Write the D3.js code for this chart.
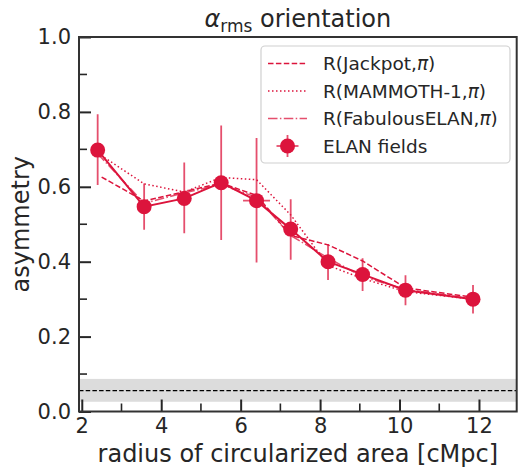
<!DOCTYPE html>
<html>
<head>
<meta charset="utf-8">
<script src="https://cdn.jsdelivr.net/npm/d3@7"></script>
<style>
    body { margin: 0; background: #ffffff; }
    svg text { font-family: 'DejaVu Sans', sans-serif; fill: #262626; }
</style>
</head>
<body>
<div id="chart"></div>
<script>
// ELAN field measurements
var radius = [ 2.40, 3.57, 4.58, 5.51, 6.40, 7.26, 8.20, 9.07, 10.15, 11.85 ];
var asym = [ 0.698, 0.547, 0.569, 0.611, 0.563, 0.487, 0.400, 0.366, 0.324, 0.300 ];
var asymLo = [ 0.605, 0.485, 0.476, 0.458, 0.398, 0.405, 0.351, 0.322, 0.284, 0.262 ];
var asymHi = [ 0.794, 0.609, 0.665, 0.764, 0.730, 0.567, 0.447, 0.409, 0.364, 0.338 ];
var radiusErr = [ 0.12, 0.12, 0.12, 0.12, 0.34, 0.12, 0.12, 0.12, 0.12, 0.12 ];

// simulation curves
var jackpotX = [ 2.50, 3.57, 4.58, 5.51, 6.40, 7.26, 8.20, 9.07, 10.15, 11.85 ];
var jackpotY = [ 0.626, 0.562, 0.587, 0.610, 0.577, 0.470, 0.445, 0.402, 0.330, 0.305 ];
var mammothX = [ 2.40, 3.57, 4.58, 5.51, 6.40, 7.26, 8.20, 9.07, 10.15, 11.85 ];
var mammothY = [ 0.690, 0.608, 0.586, 0.625, 0.619, 0.525, 0.390, 0.355, 0.320, 0.300 ];
var fabulousX = [ 2.40, 3.57, 4.58, 5.51, 6.40, 7.26, 8.20, 9.07, 10.15, 11.85 ];
var fabulousY = [ 0.688, 0.556, 0.584, 0.606, 0.572, 0.470, 0.410, 0.360, 0.326, 0.301 ];

// random-orientation baseline
var baseline = 0.056;
var baselineLo = 0.026;
var baselineHi = 0.087;

var xTicks = [ 2, 4, 6, 8, 10, 12 ];
var xMinor = [ 3, 5, 7, 9, 11 ];
var yTicks = [ 0.0, 0.2, 0.4, 0.6, 0.8, 1.0 ];
var yMinor = [ 0.1, 0.3, 0.5, 0.7, 0.9 ];

var legendLabels = [ 'R(Jackpot,', 'R(MAMMOTH-1,', 'R(FabulousELAN,', 'ELAN fields' ];

var W = 519, H = 468;
var margin = { top: 37, right: 2.3, bottom: 56.5, left: 79 };
var red = '#dc143c';
var ink = '#262626';

var svg = d3.select( '#chart' )
    .append( 'svg' )
    .attr( 'width', W )
    .attr( 'height', H );

var x = d3.scaleLinear()
    .domain( [ 1.93, 12.95 ] )
    .range( [ margin.left, W - margin.right ] );

var y = d3.scaleLinear()
    .domain( [ 0, 1 ] )
    .range( [ H - margin.bottom, margin.top ] );

svg.append( 'clipPath' )
    .attr( 'id', 'plotClip' )
    .append( 'rect' )
    .attr( 'x', margin.left )
    .attr( 'y', margin.top )
    .attr( 'width', W - margin.right - margin.left )
    .attr( 'height', H - margin.bottom - margin.top );

var plot = svg.append( 'g' ).attr( 'clip-path', 'url(#plotClip)' );

// grey band + dashed baseline
plot.append( 'rect' )
    .attr( 'x', margin.left )
    .attr( 'width', W - margin.right - margin.left )
    .attr( 'y', y( baselineHi ) )
    .attr( 'height', y( baselineLo ) - y( baselineHi ) )
    .attr( 'fill', '#dcdcdc' );

plot.append( 'line' )
    .attr( 'x1', margin.left )
    .attr( 'x2', W - margin.right )
    .attr( 'y1', y( baseline ) )
    .attr( 'y2', y( baseline ) )
    .attr( 'stroke', '#000' )
    .attr( 'stroke-width', 1.3 )
    .attr( 'stroke-dasharray', '4.5,2.2' );

var line = d3.line()
    .x( d => x( d[0] ) )
    .y( d => y( d[1] ) );

var models = [
    { xs: jackpotX, ys: jackpotY, dash: '5.5,2.4', opacity: 1 },
    { xs: mammothX, ys: mammothY, dash: '1.5,2.5', opacity: 1 },
    { xs: fabulousX, ys: fabulousY, dash: '9.5,2.4,1.5,2.4', opacity: 0.75 }
];

models.forEach( function ( m ) {
    plot.append( 'path' )
        .datum( d3.zip( m.xs, m.ys ) )
        .attr( 'd', line )
        .attr( 'fill', 'none' )
        .attr( 'stroke', red )
        .attr( 'stroke-width', 1.5 )
        .attr( 'stroke-opacity', m.opacity )
        .attr( 'stroke-dasharray', m.dash );
} );

var pts = radius.map( ( r, i ) => ( { x: r, y: asym[i], lo: asymLo[i], hi: asymHi[i], xe: radiusErr[i] } ) );

// error bars
plot.append( 'g' )
    .selectAll( 'line' )
    .data( pts )
    .join( 'line' )
    .attr( 'x1', d => x( d.x ) )
    .attr( 'x2', d => x( d.x ) )
    .attr( 'y1', d => y( d.lo ) )
    .attr( 'y2', d => y( d.hi ) )
    .attr( 'stroke', red )
    .attr( 'stroke-opacity', 0.75 )
    .attr( 'stroke-width', 1.8 );

plot.append( 'g' )
    .selectAll( 'line' )
    .data( pts )
    .join( 'line' )
    .attr( 'x1', d => x( d.x - d.xe ) )
    .attr( 'x2', d => x( d.x + d.xe ) )
    .attr( 'y1', d => y( d.y ) )
    .attr( 'y2', d => y( d.y ) )
    .attr( 'stroke', red )
    .attr( 'stroke-opacity', 0.75 )
    .attr( 'stroke-width', 1.8 );

plot.append( 'path' )
    .datum( d3.zip( radius, asym ) )
    .attr( 'd', line )
    .attr( 'fill', 'none' )
    .attr( 'stroke', red )
    .attr( 'stroke-width', 2 );

plot.append( 'g' )
    .selectAll( 'circle' )
    .data( pts )
    .join( 'circle' )
    .attr( 'cx', d => x( d.x ) )
    .attr( 'cy', d => y( d.y ) )
    .attr( 'r', 7.5 )
    .attr( 'fill', red );

// axes, ticks pointing inward
var xAxis = svg.append( 'g' )
    .attr( 'transform', 'translate(0,' + ( H - margin.bottom ) + ')' )
    .call( d3.axisBottom( x ).tickValues( xTicks ).tickSizeInner( -12 ).tickSizeOuter( 0 ).tickPadding( 3 ).tickFormat( d3.format( 'd' ) ) );
xAxis.selectAll( 'text' ).attr( 'dy', '0.9em' );

var yAxis = svg.append( 'g' )
    .attr( 'transform', 'translate(' + margin.left + ',0)' )
    .call( d3.axisLeft( y ).tickValues( yTicks ).tickSizeInner( -12 ).tickSizeOuter( 0 ).tickPadding( 8 ).tickFormat( d3.format( '.1f' ) ) );

[ xAxis, yAxis ].forEach( function ( a ) {
    a.select( '.domain' ).remove();
    a.selectAll( '.tick line' ).attr( 'stroke', ink ).attr( 'stroke-width', 2 );
    a.selectAll( 'text' )
        .attr( 'font-family', "'DejaVu Sans', sans-serif" )
        .attr( 'font-size', 21 )
        .attr( 'fill', ink );
} );

svg.append( 'g' )
    .selectAll( 'line' )
    .data( xMinor )
    .join( 'line' )
    .attr( 'x1', d => x( d ) )
    .attr( 'x2', d => x( d ) )
    .attr( 'y1', H - margin.bottom )
    .attr( 'y2', H - margin.bottom - 8 )
    .attr( 'stroke', ink )
    .attr( 'stroke-width', 1.6 );

svg.append( 'g' )
    .selectAll( 'line' )
    .data( yMinor )
    .join( 'line' )
    .attr( 'x1', margin.left )
    .attr( 'x2', margin.left + 8 )
    .attr( 'y1', d => y( d ) )
    .attr( 'y2', d => y( d ) )
    .attr( 'stroke', ink )
    .attr( 'stroke-width', 1.6 );

// frame
svg.append( 'rect' )
    .attr( 'x', margin.left )
    .attr( 'y', margin.top )
    .attr( 'width', W - margin.right - margin.left )
    .attr( 'height', H - margin.bottom - margin.top )
    .attr( 'fill', 'none' )
    .attr( 'stroke', '#333' )
    .attr( 'stroke-width', 2 );

// labels
svg.append( 'text' )
    .attr( 'x', ( margin.left + W - margin.right ) / 2 )
    .attr( 'y', 462 )
    .attr( 'text-anchor', 'middle' )
    .attr( 'font-size', 24 )
    .text( 'radius of circularized area [cMpc]' );

svg.append( 'text' )
    .attr( 'transform', 'translate(29,' + ( ( margin.top + H - margin.bottom ) / 2 ) + ') rotate(-90)' )
    .attr( 'text-anchor', 'middle' )
    .attr( 'font-size', 24 )
    .text( 'asymmetry' );

var title = svg.append( 'text' )
    .attr( 'x', ( margin.left + W - margin.right ) / 2 )
    .attr( 'y', 27 )
    .attr( 'text-anchor', 'middle' )
    .attr( 'font-size', 24 );
title.append( 'tspan' ).attr( 'font-style', 'italic' ).text( 'α' );
title.append( 'tspan' ).attr( 'font-size', 17 ).attr( 'dy', 5 ).text( 'rms' );
title.append( 'tspan' ).attr( 'dy', -5 ).text( ' orientation' );

// legend
var leg = svg.append( 'g' );
leg.append( 'rect' )
    .attr( 'x', 261 )
    .attr( 'y', 46 )
    .attr( 'width', 249 )
    .attr( 'height', 117 )
    .attr( 'rx', 4 )
    .attr( 'fill', '#fff' )
    .attr( 'fill-opacity', 0.8 )
    .attr( 'stroke', '#d0d0d0' )
    .attr( 'stroke-width', 1.2 );

var rowY = [ 63.5, 91, 118.5, 146 ];
models.forEach( function ( m, i ) {
    leg.append( 'line' )
        .attr( 'x1', 268 )
        .attr( 'x2', 307 )
        .attr( 'y1', rowY[i] )
        .attr( 'y2', rowY[i] )
        .attr( 'stroke', red )
        .attr( 'stroke-width', 1.5 )
        .attr( 'stroke-opacity', m.opacity )
        .attr( 'stroke-dasharray', m.dash );
} );

leg.append( 'line' )
    .attr( 'x1', 287.5 ).attr( 'x2', 287.5 )
    .attr( 'y1', rowY[3] - 11 ).attr( 'y2', rowY[3] + 11 )
    .attr( 'stroke', red ).attr( 'stroke-opacity', 0.75 ).attr( 'stroke-width', 1.8 );
leg.append( 'line' )
    .attr( 'x1', 276.5 ).attr( 'x2', 298.5 )
    .attr( 'y1', rowY[3] ).attr( 'y2', rowY[3] )
    .attr( 'stroke', red ).attr( 'stroke-opacity', 0.75 ).attr( 'stroke-width', 1.8 );
leg.append( 'circle' )
    .attr( 'cx', 287.5 )
    .attr( 'cy', rowY[3] )
    .attr( 'r', 7.5 )
    .attr( 'fill', red );

legendLabels.forEach( function ( lab, i ) {
    var t = leg.append( 'text' )
        .attr( 'x', 323 )
        .attr( 'y', rowY[i] )
        .attr( 'dy', '0.36em' )
        .attr( 'font-size', 18.5 );
    t.append( 'tspan' ).text( lab );
    if ( i < 3 ) {
        t.append( 'tspan' ).attr( 'font-style', 'italic' ).text( 'π' );
        t.append( 'tspan' ).text( ')' );
    }
} );
</script>
</body>
</html>
